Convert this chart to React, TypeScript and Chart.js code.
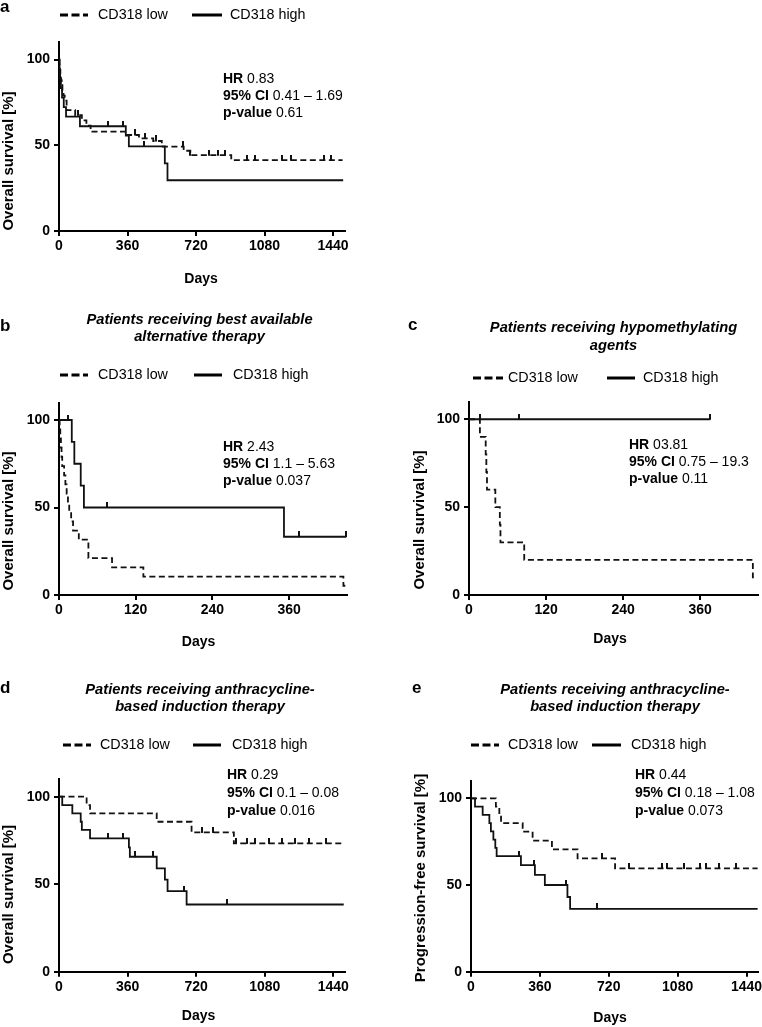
import React, { useEffect, useRef } from 'react';
import { Chart, registerables } from 'chart.js';

Chart.register(...registerables);

const FONT = '"Liberation Sans", Arial, Helvetica, sans-serif';
const W = 762;
const H = 1027;

// ---------- shared labels ----------
const LEGEND_LABELS = ['CD318 low', 'CD318 high'];
const STAT_KEYS = ['HR', '95% CI', 'p-value'];
const X_TITLE = 'Days';
const Y_TICKS = [0, 50, 100];
const X_TICKS_LONG = [0, 360, 720, 1080, 1440];
const X_TICKS_SHORT = [0, 120, 240, 360];

// ---------- panel a: all patients ----------
const A_LOW_DAYS = [2, 4, 7, 10, 14, 18, 24, 30, 40, 85, 120, 144, 166, 358, 420, 495, 540, 655, 690, 905];
const A_LOW_SURV = [97, 94, 91, 88, 85, 82, 79, 76, 70.5, 67.5, 64.5, 61.5, 58, 56, 54, 52.5, 49.2, 46.8, 44.2, 41.3];
const A_LOW_END = 1490;
const A_LOW_CENSOR = [100, 400, 450, 510, 650, 690, 790, 835, 870, 990, 1030, 1170, 1220, 1390, 1430];
const A_HIGH_DAYS = [3, 6, 10, 16, 25, 37, 110, 351, 367, 556, 570];
const A_HIGH_SURV = [94.4, 88.9, 83.3, 77.8, 72.2, 66.7, 61.1, 55.6, 49.4, 39.5, 29.6];
const A_HIGH_END = 1493;
const A_HIGH_CENSOR = [259, 337, 448];
const A_STATS = ['0.83', '0.41 – 1.69', '0.61'];

// ---------- panel b: best available alternative therapy ----------
const B_TITLE = ['Patients receiving best available', 'alternative therapy'];
const B_LOW_DAYS = [1, 2, 3, 4, 5, 8, 10, 12, 14, 16, 19, 22, 31, 46, 83, 132, 445];
const B_LOW_SURV = [94.7, 89.5, 84.2, 78.9, 73.7, 68.4, 63.2, 57.9, 52.6, 47.4, 42.1, 36.8, 31.6, 21.1, 15.8, 10.5, 5.3];
const B_LOW_END = 448;
const B_LOW_CENSOR: number[] = [];
const B_HIGH_DAYS = [20, 24, 34, 39, 352];
const B_HIGH_SURV = [87.5, 75, 62.5, 50, 33.3];
const B_HIGH_END = 449;
const B_HIGH_CENSOR = [14, 75, 375, 449];
const B_STATS = ['2.43', '1.1 – 5.63', '0.037'];

// ---------- panel c: hypomethylating agents ----------
const C_TITLE = ['Patients receiving hypomethylating', 'agents'];
const C_LOW_DAYS = [17, 26, 27, 28, 41, 48, 49, 86, 442];
const C_LOW_SURV = [90, 80, 70, 60, 50, 40, 30, 20, 10];
const C_LOW_END = 447;
const C_LOW_CENSOR: number[] = [];
const C_HIGH_DAYS: number[] = [];
const C_HIGH_SURV: number[] = [];
const C_HIGH_END = 375;
const C_HIGH_CENSOR = [17, 78, 375];
const C_STATS = ['03.81', '0.75 – 19.3', '0.11'];

// ---------- panel d: anthracycline-based induction, OS ----------
const D_TITLE = ['Patients receiving anthracycline-', 'based induction therapy'];
const D_LOW_DAYS = [145, 163, 513, 696, 918];
const D_LOW_SURV = [95.2, 90.5, 85.7, 79.6, 73.3];
const D_LOW_END = 1495;
const D_LOW_CENSOR = [750, 810, 930, 985, 1030, 1100, 1170, 1240, 1310, 1400];
const D_HIGH_DAYS = [17, 70, 114, 120, 163, 367, 372, 513, 556, 570, 670];
const D_HIGH_SURV = [95.2, 90.5, 85.7, 81.0, 76.2, 71.0, 65.7, 59.1, 52.6, 46.0, 38.4];
const D_HIGH_END = 1495;
const D_HIGH_CENSOR = [259, 338, 399, 495, 658, 880];
const D_STATS = ['0.29', '0.1 – 0.08', '0.016'];

// ---------- panel e: anthracycline-based induction, PFS ----------
const E_TITLE = ['Patients receiving anthracycline-', 'based induction therapy'];
const E_LOW_DAYS = [130, 148, 157, 270, 322, 423, 557, 753];
const E_LOW_SURV = [95.2, 90.5, 85.7, 80.8, 75.6, 70.6, 65.4, 59.6];
const E_LOW_END = 1498;
const E_LOW_CENSOR = [687, 826, 1000, 1025, 1113, 1195, 1226, 1296, 1385];
const E_HIGH_DAYS = [21, 61, 96, 104, 117, 127, 134, 261, 334, 386, 504, 518];
const E_HIGH_SURV = [95.2, 90.5, 85.7, 81.0, 76.2, 71.4, 66.7, 61.5, 55.8, 50.0, 43.1, 36.2];
const E_HIGH_END = 1498;
const E_HIGH_CENSOR = [252, 327, 496, 657];
const E_STATS = ['0.44', '0.18 – 1.08', '0.073'];

// ---------- layout (positions only) ----------
type Series = { days: number[]; surv: number[]; end: number; censor: number[]; dashed: boolean };
type Panel = {
  key: string;
  letter: { text: string; x: number; y: number };
  title: { lines: string[]; x: number; y: number; gap: number } | null;
  legend: { y: number; low: [number, number]; lowText: number; high: [number, number]; highText: number };
  stats: { values: string[]; x: number; y: number; gap: number };
  yTitle: { text: string; x: number; y: number };
  xTitle: { x: number; y: number };
  area: { left: number; right: number; top: number; bottom: number };
  xMax: number;
  xTicks: number[];
  series: Series[];
};

const PANELS: Panel[] = [
  {
    key: 'a',
    letter: { text: 'a', x: 0, y: 12 },
    title: null,
    legend: { y: 15, low: [60, 88], lowText: 98, high: [192, 222], highText: 230 },
    stats: { values: A_STATS, x: 223, y: 83, gap: 17 },
    yTitle: { text: 'Overall survival [%]', x: 9, y: 161 },
    xTitle: { x: 201, y: 279 },
    area: { left: 59, right: 344.5, top: 42.4, bottom: 231 },
    xMax: 1500,
    xTicks: X_TICKS_LONG,
    series: [
      { days: A_LOW_DAYS, surv: A_LOW_SURV, end: A_LOW_END, censor: A_LOW_CENSOR, dashed: true },
      { days: A_HIGH_DAYS, surv: A_HIGH_SURV, end: A_HIGH_END, censor: A_HIGH_CENSOR, dashed: false },
    ],
  },
  {
    key: 'b',
    letter: { text: 'b', x: 0, y: 331 },
    title: { lines: B_TITLE, x: 199.5, y: 323.5, gap: 17.5 },
    legend: { y: 375, low: [60, 88], lowText: 98, high: [194, 222], highText: 233 },
    stats: { values: B_STATS, x: 223, y: 451, gap: 17 },
    yTitle: { text: 'Overall survival [%]', x: 9, y: 521 },
    xTitle: { x: 198.5, y: 642 },
    area: { left: 59, right: 346.6, top: 402.5, bottom: 595 },
    xMax: 450,
    xTicks: X_TICKS_SHORT,
    series: [
      { days: B_LOW_DAYS, surv: B_LOW_SURV, end: B_LOW_END, censor: B_LOW_CENSOR, dashed: true },
      { days: B_HIGH_DAYS, surv: B_HIGH_SURV, end: B_HIGH_END, censor: B_HIGH_CENSOR, dashed: false },
    ],
  },
  {
    key: 'c',
    letter: { text: 'c', x: 408, y: 330 },
    title: { lines: C_TITLE, x: 613.5, y: 331.5, gap: 18 },
    legend: { y: 378, low: [473, 503], lowText: 508, high: [607, 635], highText: 643 },
    stats: { values: C_STATS, x: 629, y: 448.5, gap: 17 },
    yTitle: { text: 'Overall survival [%]', x: 420, y: 520 },
    xTitle: { x: 610, y: 639 },
    area: { left: 469, right: 758.6, top: 401.7, bottom: 595 },
    xMax: 450,
    xTicks: X_TICKS_SHORT,
    series: [
      { days: C_LOW_DAYS, surv: C_LOW_SURV, end: C_LOW_END, censor: C_LOW_CENSOR, dashed: true },
      { days: C_HIGH_DAYS, surv: C_HIGH_SURV, end: C_HIGH_END, censor: C_HIGH_CENSOR, dashed: false },
    ],
  },
  {
    key: 'd',
    letter: { text: 'd', x: 0, y: 693 },
    title: { lines: D_TITLE, x: 200, y: 693.5, gap: 17 },
    legend: { y: 745, low: [63, 91], lowText: 100, high: [193, 221], highText: 232 },
    stats: { values: D_STATS, x: 227, y: 779, gap: 18 },
    yTitle: { text: 'Overall survival [%]', x: 9, y: 894.5 },
    xTitle: { x: 198.5, y: 1016 },
    area: { left: 59, right: 344.7, top: 779.2, bottom: 971.7 },
    xMax: 1500,
    xTicks: X_TICKS_LONG,
    series: [
      { days: D_LOW_DAYS, surv: D_LOW_SURV, end: D_LOW_END, censor: D_LOW_CENSOR, dashed: true },
      { days: D_HIGH_DAYS, surv: D_HIGH_SURV, end: D_HIGH_END, censor: D_HIGH_CENSOR, dashed: false },
    ],
  },
  {
    key: 'e',
    letter: { text: 'e', x: 412, y: 693 },
    title: { lines: E_TITLE, x: 615, y: 693.5, gap: 17 },
    legend: { y: 745, low: [471, 499], lowText: 508, high: [592, 621], highText: 631 },
    stats: { values: E_STATS, x: 635, y: 779, gap: 18 },
    yTitle: { text: 'Progression-free survival [%]', x: 421, y: 878 },
    xTitle: { x: 610, y: 1018 },
    area: { left: 471, right: 759.2, top: 781, bottom: 971.7 },
    xMax: 1500,
    xTicks: X_TICKS_LONG,
    series: [
      { days: E_LOW_DAYS, surv: E_LOW_SURV, end: E_LOW_END, censor: E_LOW_CENSOR, dashed: true },
      { days: E_HIGH_DAYS, surv: E_HIGH_SURV, end: E_HIGH_END, censor: E_HIGH_CENSOR, dashed: false },
    ],
  },
];

// ---------- helpers ----------
function kmPoints(days: number[], surv: number[], end: number) {
  const pts = [{ x: 0, y: 100 }];
  days.forEach((d, i) => pts.push({ x: d, y: surv[i] }));
  const last = surv.length ? surv[surv.length - 1] : 100;
  pts.push({ x: end, y: last });
  return pts;
}

function levelAt(days: number[], surv: number[], t: number) {
  let v = 100;
  for (let i = 0; i < days.length; i++) {
    if (days[i] <= t) v = surv[i];
  }
  return v;
}

function makeCensorMark() {
  const c = document.createElement('canvas');
  c.width = 2;
  c.height = 11;
  const g = c.getContext('2d');
  if (g) {
    g.fillStyle = '#111';
    g.fillRect(0, 0, 2, 6);
  }
  return c;
}

function drawPanelText(ctx: CanvasRenderingContext2D, p: Panel) {
  ctx.save();
  ctx.fillStyle = '#000';
  ctx.strokeStyle = '#000';

  // panel letter
  ctx.font = `bold 17px ${FONT}`;
  ctx.textAlign = 'left';
  ctx.textBaseline = 'alphabetic';
  ctx.fillText(p.letter.text, p.letter.x, p.letter.y);

  // title
  if (p.title) {
    ctx.font = `italic bold 14.7px ${FONT}`;
    ctx.textAlign = 'center';
    p.title.lines.forEach((l, i) => ctx.fillText(l, p.title!.x, p.title!.y + i * p.title!.gap));
  }

  // legend
  const L = p.legend;
  ctx.lineWidth = 3;
  ctx.lineCap = 'butt';
  ctx.setLineDash([8, 3.5]);
  ctx.beginPath();
  ctx.moveTo(L.low[0], L.y);
  ctx.lineTo(L.low[1], L.y);
  ctx.stroke();
  ctx.setLineDash([]);
  ctx.beginPath();
  ctx.moveTo(L.high[0], L.y);
  ctx.lineTo(L.high[1], L.y);
  ctx.stroke();
  ctx.font = `14.3px ${FONT}`;
  ctx.textAlign = 'left';
  ctx.textBaseline = 'middle';
  ctx.fillText(LEGEND_LABELS[0], L.lowText, L.y);
  ctx.fillText(LEGEND_LABELS[1], L.highText, L.y);

  // statistics block
  ctx.textBaseline = 'alphabetic';
  STAT_KEYS.forEach((k, i) => {
    const y = p.stats.y + i * p.stats.gap;
    ctx.font = `bold 14px ${FONT}`;
    ctx.fillText(k, p.stats.x, y);
    const w = ctx.measureText(k + ' ').width;
    ctx.font = `14px ${FONT}`;
    ctx.fillText(p.stats.values[i], p.stats.x + w, y);
  });

  // y-axis title
  ctx.save();
  ctx.translate(p.yTitle.x, p.yTitle.y);
  ctx.rotate(-Math.PI / 2);
  ctx.font = `bold 15px ${FONT}`;
  ctx.textAlign = 'center';
  ctx.textBaseline = 'middle';
  ctx.fillText(p.yTitle.text, 0, 0);
  ctx.restore();

  // x-axis title
  ctx.font = `bold 14px ${FONT}`;
  ctx.textAlign = 'center';
  ctx.textBaseline = 'middle';
  ctx.fillText(X_TITLE, p.xTitle.x, p.xTitle.y);

  ctx.restore();
}

const Y_AXIS_W = 40;
const X_AXIS_H = 30;

function PanelChart({ panel }: { panel: Panel }) {
  const ref = useRef<HTMLCanvasElement | null>(null);

  useEffect(() => {
    if (!ref.current) return;
    const mark = makeCensorMark();
    const datasets: any[] = [];
    panel.series.forEach((s) => {
      datasets.push({
        data: kmPoints(s.days, s.surv, s.end),
        stepped: true,
        borderColor: '#111',
        borderWidth: 1.8,
        borderDash: s.dashed ? [6, 3.5] : [],
        borderCapStyle: 'butt',
        pointRadius: 0,
        pointHoverRadius: 0,
        fill: false,
        showLine: true,
      });
      if (s.censor.length) {
        datasets.push({
          data: s.censor.map((t) => ({ x: t, y: levelAt(s.days, s.surv, t) })),
          showLine: false,
          pointStyle: mark,
          pointRadius: 3,
          pointHoverRadius: 3,
          clip: false,
        });
      }
    });

    const a = panel.area;
    const tickFont = { family: FONT, size: 14, weight: 'bold' as const };
    const chart = new Chart(ref.current, {
      type: 'line',
      data: { datasets },
      options: {
        animation: false,
        responsive: false,
        events: [],
        layout: {
          padding: {
            left: a.left - Y_AXIS_W,
            right: W - a.right,
            top: a.top,
            bottom: H - a.bottom - X_AXIS_H,
          },
        },
        plugins: { legend: { display: false }, tooltip: { enabled: false }, title: { display: false } },
        scales: {
          x: {
            type: 'linear',
            min: 0,
            max: panel.xMax,
            afterBuildTicks: (s: any) => {
              s.ticks = panel.xTicks.map((v) => ({ value: v }));
            },
            afterFit: (s: any) => {
              s.height = X_AXIS_H;
              s.paddingLeft = 0;
              s.paddingRight = 0;
            },
            grid: { display: true, drawOnChartArea: false, drawTicks: true, tickLength: 5, color: '#000', lineWidth: 2 },
            border: { display: true, color: '#000', width: 2 },
            ticks: {
              color: '#000',
              font: tickFont,
              padding: 2,
              maxRotation: 0,
              autoSkip: false,
              callback: (v: any) => String(v),
            },
          },
          y: {
            type: 'linear',
            min: 0,
            max: 110,
            afterBuildTicks: (s: any) => {
              s.ticks = Y_TICKS.map((v) => ({ value: v }));
            },
            afterFit: (s: any) => {
              s.width = Y_AXIS_W;
              s.paddingTop = 0;
              s.paddingBottom = 0;
            },
            grid: { display: true, drawOnChartArea: false, drawTicks: true, tickLength: 5, color: '#000', lineWidth: 2 },
            border: { display: true, color: '#000', width: 2 },
            ticks: { color: '#000', font: tickFont, padding: 4, autoSkip: false, callback: (v: any) => String(v) },
          },
        },
      },
      plugins: [
        {
          id: 'panelText' + panel.key,
          afterDraw: (c: any) => drawPanelText(c.ctx, panel),
        },
      ],
    });
    return () => chart.destroy();
  }, [panel]);

  return (
    <canvas
      ref={ref}
      width={W}
      height={H}
      style={{ position: 'absolute', left: 0, top: 0, width: W, height: H }}
    />
  );
}

export default function App() {
  return (
    <div style={{ position: 'absolute', left: 0, top: 0, width: W, height: H, background: '#fff', overflow: 'hidden' }}>
      {PANELS.map((p) => (
        <PanelChart key={p.key} panel={p} />
      ))}
    </div>
  );
}
